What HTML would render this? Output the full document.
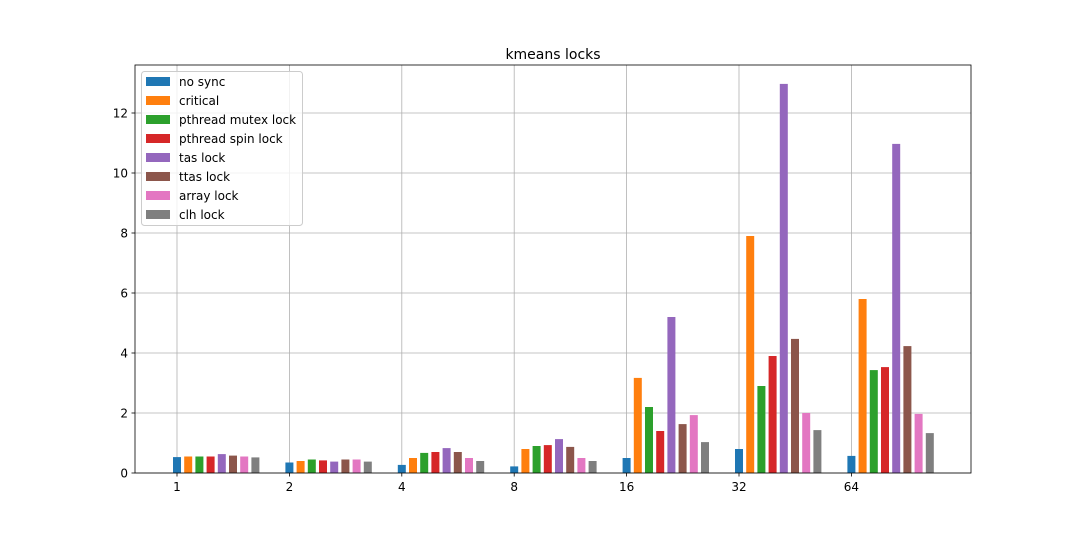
<!DOCTYPE html>
<html><head><meta charset="utf-8"><style>
body{margin:0;background:#fff;font-family:"Liberation Sans","DejaVu Sans",sans-serif;}
svg text{font-family:"DejaVu Sans","Liberation Sans",sans-serif;}
</style></head><body>
<svg id="chart" width="1080" height="540" xmlns="http://www.w3.org/2000/svg">
<text x="553" y="59" text-anchor="middle" font-size="14">kmeans locks</text>
<g id="grid"></g><g id="bars"></g><g id="axes"></g><g id="legend"></g>
</svg>
<script>
const categories = ["1","2","4","8","16","32","64"];
const seriesNames = ["no sync","critical","pthread mutex lock","pthread spin lock","tas lock","ttas lock","array lock","clh lock"];
const noSync = [0.53,0.35,0.27,0.22,0.5,0.8,0.57];
const critical = [0.55,0.4,0.5,0.8,3.17,7.9,5.8];
const mutexLock = [0.55,0.45,0.67,0.9,2.2,2.9,3.43];
const spinLock = [0.55,0.42,0.7,0.93,1.4,3.9,3.53];
const tasLock = [0.63,0.38,0.83,1.13,5.2,12.97,10.97];
const ttasLock = [0.58,0.45,0.7,0.87,1.63,4.47,4.23];
const arrayLock = [0.55,0.45,0.5,0.5,1.93,2.0,1.97];
const clhLock = [0.52,0.38,0.4,0.4,1.03,1.43,1.33];
const yTicks = [0,2,4,6,8,10,12];
const series = [noSync,critical,mutexLock,spinLock,tasLock,ttasLock,arrayLock,clhLock];
const colors = ["#1f77b4","#ff7f0e","#2ca02c","#d62728","#9467bd","#8c564b","#e377c2","#7f7f7f"];
const NS="http://www.w3.org/2000/svg";
const L=135,R=971,T=65,B=473;
function y(v){return B-v*30;}
function x(i){return 177+i*112.4;}
function mk(tag,attrs,parent){const e=document.createElementNS(NS,tag);for(const k in attrs)e.setAttribute(k,attrs[k]);parent.appendChild(e);return e;}
const grid=document.getElementById('grid'),bars=document.getElementById('bars'),axes=document.getElementById('axes'),leg=document.getElementById('legend');
yTicks.forEach(t=>{
  const gl=mk('line',{x1:L,x2:R,y1:y(t),y2:y(t),stroke:'#b0b0b0','stroke-width':0.8},grid);
  
  
  mk('line',{x1:L-3.5,x2:L,y1:y(t),y2:y(t),stroke:'#000','stroke-width':0.8},axes);
  const tx=mk('text',{x:L-7,y:y(t)+4.5,'text-anchor':'end','font-size':12},axes);
  tx.textContent=t;
  
  
});
categories.forEach((c,i)=>{
  const gl=mk('line',{x1:x(i),x2:x(i),y1:T,y2:B,stroke:'#b0b0b0','stroke-width':0.8},grid);
  
  
  mk('line',{x1:x(i),x2:x(i),y1:B,y2:B+3.5,stroke:'#000','stroke-width':0.8},axes);
  const tx=mk('text',{x:x(i),y:B+18,'text-anchor':'middle','font-size':12},axes);
  tx.textContent=c;
  
  
});
series.forEach((s,j)=>{
  s.forEach((v,i)=>{
    const cx=x(i)+j*11.2;
    const r=mk('rect',{x:cx-4,y:y(v),width:8,height:B-y(v),fill:colors[j]},bars);
    
    
  });
});
const fr=mk('rect',{x:L,y:T,width:R-L,height:B-T,fill:'none',stroke:'#000','stroke-width':0.8},axes);


const lb=mk('rect',{x:141.5,y:71.5,width:161,height:154,rx:3,fill:'#fff','fill-opacity':0.8,stroke:'#ccc','stroke-width':1},leg);


seriesNames.forEach((n,j)=>{
  const yy=77+j*19;
  const p=mk('rect',{x:146,y:yy,width:24,height:9,fill:colors[j]},leg);
  
  
  const t=mk('text',{x:179,y:yy+9,'font-size':12},leg);
  t.textContent=n;
  
  
});
</script>
</body></html>
